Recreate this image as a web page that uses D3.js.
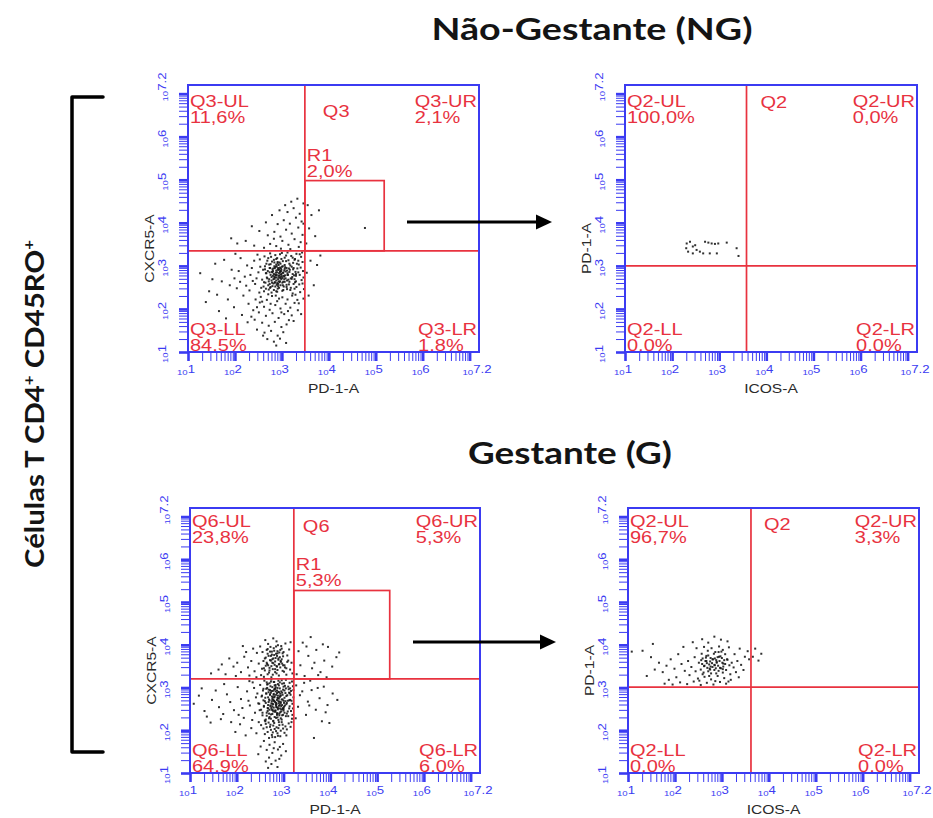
<!DOCTYPE html>
<html>
<head>
<meta charset="utf-8">
<script src="https://cdn.jsdelivr.net/npm/d3@7"></script>
<style>
  html, body { margin: 0; padding: 0; background: #fff; }
  svg { display: block; }
</style>
</head>
<body>
<svg id="fig" width="933" height="818"></svg>
<script>
// ---- Events, as [log10 x, log10 y] -------------------------------------
// Não-Gestante, CXCR5 vs PD-1 (Q3 gate)
const q3Events = [
  // lower-left core
  [2.62,2.41],[2.71,2.55],[2.78,2.38],[2.85,2.62],[2.91,2.47],[2.97,2.71],[3.04,2.52],[3.11,2.66],[3.18,2.44],[3.25,2.58],
  [2.66,2.83],[2.74,2.95],[2.81,2.77],[2.88,2.89],[2.93,3.02],[2.99,2.81],[3.06,2.93],[3.13,2.79],[3.21,2.98],[3.29,2.86],
  [2.69,3.12],[2.77,3.21],[2.84,3.08],[2.90,3.18],[2.96,3.27],[3.02,3.11],[3.09,3.24],[3.16,3.05],[3.23,3.19],[3.31,3.28],
  [2.58,2.68],[2.64,2.99],[2.72,2.64],[2.79,2.86],[2.86,2.73],[2.92,2.58],[2.98,2.94],[3.05,2.69],[3.12,2.83],[3.19,2.71],
  [2.61,2.52],[2.68,2.73],[2.75,2.49],[2.82,2.69],[2.89,2.56],[2.95,2.78],[3.01,2.61],[3.08,2.87],[3.15,2.57],[3.22,2.74],
  [2.87,2.84],[2.91,2.91],[2.94,2.83],[2.97,2.88],[3.00,2.76],[2.83,2.81],[2.89,2.79],[2.96,2.96],[3.03,2.84],[2.92,2.69],
  [2.85,2.95],[2.99,2.69],[3.07,2.78],[2.80,2.92],[2.93,2.77],[2.88,2.66],[3.02,2.99],[2.95,2.62],[2.86,2.52],[3.10,2.95],
  [2.79,2.61],[2.84,2.74],[2.90,2.85],[2.98,2.80],[3.05,2.89],[2.76,2.79],[2.94,2.92],[3.01,2.72],[2.87,2.98],[2.97,2.55],
  [2.70,2.88],[2.76,3.04],[2.83,3.14],[2.91,3.06],[2.99,3.16],[3.06,3.02],[3.14,3.13],[2.73,2.69],[3.17,2.91],[3.24,3.07],
  [2.65,2.61],[2.72,2.45],[2.80,2.53],[2.88,2.41],[2.94,2.49],[3.03,2.44],[3.10,2.51],[3.16,2.63],[3.27,2.69],[3.33,2.94],
  [2.60,2.91],[2.67,3.05],[2.63,3.22],[2.75,3.29],[2.86,3.25],[3.00,3.30],[3.12,3.31],[3.20,3.23],[3.35,3.12],[3.38,2.79],
  [2.92,2.95],[2.89,2.73],[2.96,2.86],[3.04,2.77],[2.81,2.88],[2.99,2.91],[2.86,2.79],[2.93,2.64],[3.08,2.71],[2.78,2.74],
  [2.95,3.08],[2.84,2.99],[3.02,2.55],[2.90,2.60],[2.74,2.85],[3.11,2.89],[2.97,2.74],[2.88,3.03],[3.06,2.63],[2.82,2.59],
  [2.66,2.47],[2.74,2.58],[2.83,2.44],[2.92,2.53],[3.01,2.42],[3.10,2.56],[3.19,2.49],[3.28,2.62],[2.69,2.71],[2.78,2.66],
  [2.87,2.78],[2.96,2.64],[3.05,2.75],[3.14,2.68],[3.23,2.81],[2.64,2.92],[2.73,3.03],[2.82,2.94],[2.91,3.09],[3.00,2.98],
  [3.09,3.11],[3.18,3.01],[3.27,3.14],[2.71,3.18],[2.80,2.85],[2.89,2.99],[2.98,2.87],[3.07,2.97],[3.16,2.86],[3.25,2.95],
  [2.76,2.51],[2.85,2.61],[2.94,2.73],[3.03,2.63],[3.12,2.79],[3.21,2.70],[2.67,2.83],[2.79,3.10],[2.88,3.16],[2.97,3.05],
  [3.06,3.19],[3.15,2.94],[2.62,2.62],[3.30,2.77],[2.84,2.70],[2.93,2.91],[3.02,2.84],[2.75,2.95],[3.11,2.46],[2.90,2.40],
  // lower tail
  [2.55,2.28],[2.68,2.21],[2.79,2.30],[2.90,2.18],[3.01,2.27],[3.12,2.22],[3.22,2.31],[2.62,2.05],[2.74,1.98],[2.86,2.09],
  [2.97,2.01],[3.08,2.12],[3.18,2.03],[2.51,1.92],[2.66,1.84],[2.80,1.90],[2.93,1.79],[3.05,1.88],[3.15,1.74],[2.58,1.68],
  [2.72,1.61],[2.85,1.70],[2.99,1.58],[3.10,1.64],[2.47,1.52],[2.63,1.45],[2.77,1.49],[2.91,1.38],[3.03,1.46],[2.69,1.30],
  [2.83,1.24],[2.96,1.31],[3.09,1.21],[2.88,1.15],[2.42,1.75],[2.53,2.15],[2.94,2.24],[3.27,2.14],[2.71,2.34],[3.13,1.95],
  [2.60,1.38],[2.87,2.31],[2.99,1.92],[2.76,2.12],[3.21,1.85],
  // left scatter
  [1.26,2.83],[1.45,2.41],[1.58,3.05],[1.72,2.64],[1.85,2.22],[1.93,2.91],[2.04,2.48],[2.12,3.18],[2.21,2.75],[2.29,2.12],
  [2.36,2.95],[2.43,2.58],[2.48,3.26],[2.52,2.38],[1.66,1.95],[1.81,1.78],[1.98,2.04],[2.15,1.86],[2.27,1.69],[2.39,1.97],
  [1.52,2.69],[1.77,3.14],[1.99,2.71],[2.08,2.88],[2.24,2.54],[2.33,2.79],[2.41,3.12],[2.46,2.71],[2.54,2.98],[2.50,2.85],
  [1.38,2.16],[2.18,2.31],[2.31,2.43],[2.44,2.22],[2.56,2.49],[2.01,3.28],[1.89,2.55],[2.26,3.01],[2.38,2.65],[2.53,3.15],
  [2.47,2.04],[2.35,1.82],[2.11,2.63],[1.62,2.33],[2.58,2.17],
  // along the PD-1 gate
  [3.26,2.78],[3.31,2.51],[3.36,3.03],[3.42,2.67],[3.45,2.88],[3.39,2.39],[3.33,2.21],[3.28,3.16],[3.41,3.21],[3.47,2.46],
  [3.24,2.92],[3.30,2.64],[3.35,2.85],[3.44,3.09],[3.37,2.57],[3.29,2.33],[3.46,2.73],[3.40,2.96],[3.34,1.97],[3.25,1.72],
  [3.43,3.31],[3.38,3.27],[3.32,3.05],[3.27,2.47],[3.46,2.24],[3.36,2.13],[3.41,1.88],[3.23,2.36],[3.30,2.81],[3.44,2.59],
  // upper-left
  [2.62,3.42],[2.75,3.51],[2.88,3.46],[3.01,3.58],[3.14,3.49],[3.27,3.62],[3.40,3.55],[2.70,3.71],[2.84,3.79],[2.97,3.68],
  [3.09,3.84],[3.21,3.75],[3.35,3.89],[3.44,3.72],[2.91,3.97],[3.04,4.06],[3.17,3.98],[3.30,4.12],[3.42,4.03],[3.12,4.25],
  [3.25,4.34],[3.38,4.21],[3.46,4.45],[3.33,4.56],[3.20,4.49],[2.41,3.47],[2.23,3.58],[2.05,3.52],[1.92,3.64],[2.52,3.81],
  [2.36,3.92],[2.66,4.01],[2.79,4.18],[2.95,4.29],[3.07,4.41],[2.98,3.40],[3.18,3.39],[2.83,3.63],[3.46,3.98],[3.36,3.44],
  // upper-right
  [3.52,3.52],[3.58,3.87],[3.63,4.18],[3.55,4.41],[3.71,3.69],[3.79,4.29],[4.77,3.88],
  // lower-right
  [3.53,2.84],[3.61,3.12],[3.68,2.55],[3.57,2.31],[3.75,3.02],[3.82,3.24]
];

// Não-Gestante, PD-1 vs ICOS inside R1
const q2NgEvents = [
  [2.31,3.52],[2.38,3.56],[2.30,3.41],[2.44,3.45],[2.49,3.48],[2.44,3.29],[2.59,3.33],[2.70,3.56],[2.77,3.54],[2.84,3.52],
  [2.91,3.51],[2.98,3.52],[3.16,3.54],[2.66,3.29],[2.80,3.29],[2.95,3.29],[3.37,3.41],[3.41,3.23],[2.34,3.33],[2.52,3.37]
];

// Gestante, CXCR5 vs PD-1 (Q6 gate)
const q6Events = [
  // lower-left core
  [2.62,2.25],[2.70,2.31],[2.78,2.22],[2.86,2.36],[2.94,2.28],[3.02,2.41],[3.10,2.33],[2.66,2.45],[2.74,2.52],[2.82,2.43],
  [2.90,2.57],[2.98,2.49],[3.06,2.61],[2.58,2.55],[2.68,2.66],[2.76,2.73],[2.84,2.64],[2.92,2.78],[3.00,2.69],[3.08,2.82],
  [2.63,2.86],[2.71,2.94],[2.79,2.85],[2.87,2.99],[2.95,2.91],[3.03,3.04],[3.11,2.96],[2.65,3.07],[2.73,3.14],[2.81,3.05],
  [2.89,3.16],[2.97,3.09],[3.05,3.18],[2.57,2.97],[2.69,2.39],[2.77,2.47],[2.85,2.54],[2.93,2.42],[3.01,2.55],[2.72,2.58],
  [2.80,2.69],[2.88,2.81],[2.96,2.72],[3.04,2.87],[2.75,2.79],[2.83,2.91],[2.91,2.67],[2.99,2.95],[2.67,2.77],[2.60,2.68],
  [2.64,2.34],[2.73,2.27],[2.81,2.31],[2.89,2.24],[2.97,2.35],[2.76,2.38],[2.84,2.29],[2.92,2.51],[3.00,2.46],[2.70,2.48],
  [2.78,2.61],[2.86,2.71],[2.94,2.63],[3.02,2.76],[2.68,2.89],[2.76,3.01],[2.84,2.83],[2.92,3.12],[3.00,3.02],[2.74,3.19],
  [2.82,2.97],[2.90,2.89],[2.98,2.83],[2.87,2.76],[2.79,2.53],[2.71,2.83],[2.95,2.56],[2.83,2.46],[2.91,2.35],[2.67,2.59],
  [2.75,2.68],[2.85,2.62],[2.93,2.86],[3.01,2.64],[2.77,2.92],[2.88,3.08],[2.96,3.17],[2.64,3.12],[2.72,3.03],[3.07,2.39],
  [3.12,2.51],[3.14,2.71],[3.16,2.92],[3.13,3.11],[3.18,2.27],[2.55,2.41],[2.53,2.79],[2.59,3.16],[2.61,2.21],[2.48,2.62],
  [2.80,2.77],[2.86,2.87],[2.78,2.71],[2.84,2.58],[2.90,2.74],[2.82,2.66],[2.88,2.49],[2.74,2.63],[2.94,2.81],[2.80,2.95],
  [2.69,2.72],[2.97,2.59],[2.86,2.93],[2.76,2.56],[2.89,2.68],[2.81,2.79],[2.73,2.88],[2.95,2.44],[2.83,3.01],[2.92,2.59],
  [2.66,2.52],[2.78,2.44],[2.87,2.39],[2.99,2.52],[2.70,3.10],[2.80,3.13],[2.90,3.05],[3.05,2.98],[2.63,2.97],[3.09,2.69],
  [2.55,2.35],[2.64,2.41],[2.73,2.37],[2.82,2.46],[2.91,2.39],[3.00,2.50],[3.09,2.44],[2.58,2.57],[2.67,2.51],[2.76,2.62],
  [2.85,2.54],[2.94,2.66],[3.03,2.58],[3.12,2.70],[2.61,2.76],[2.70,2.70],[2.79,2.83],[2.88,2.75],[2.97,2.88],[3.06,2.80],
  [2.56,2.93],[2.65,2.99],[2.74,2.92],[2.83,3.06],[2.92,2.98],[3.01,3.10],[3.10,3.02],[2.60,2.23],[2.69,2.28],[2.78,2.21],
  [2.87,2.30],[2.96,2.25],[3.05,2.33],[2.52,2.48],[2.62,2.64],[2.71,2.84],[2.80,2.68],[2.89,2.90],[2.98,2.72],[3.07,2.64],
  [2.66,3.08],[2.75,2.48],[2.84,2.60],[2.93,2.81],[3.02,2.93],[2.57,2.70],[2.68,2.95],[2.77,2.77],[2.86,2.40],[2.95,2.49],
  [3.04,2.68],[2.63,2.86],[2.72,2.56],[2.81,2.97],[2.90,2.63],[2.99,2.36],[3.13,2.87],[2.54,2.81],[2.79,3.13],[2.88,2.52],
  [2.62,2.15],[2.71,2.08],[2.80,2.17],[2.89,2.05],[2.98,2.13],[3.07,2.02],[2.66,1.96],[2.75,1.89],[2.84,1.98],[2.93,1.86],
  [3.02,1.94],[2.57,2.04],[2.69,1.82],[2.78,2.11],[2.87,1.93],[2.96,2.19],[3.04,2.09],[2.73,2.01],[2.82,1.84],[2.91,2.12],
  [2.60,1.91],[2.77,1.95],[2.85,2.07],[2.94,1.99],[2.68,2.18],[3.11,2.16],[2.52,2.12],[2.88,1.87],[2.99,2.04],[2.72,2.13],
  [2.81,2.03],[2.64,2.07],[3.06,1.88],[2.90,2.19],[2.76,1.84],
  // lower tail
  [2.58,1.75],[2.70,1.66],[2.81,1.72],[2.92,1.61],[2.64,1.54],[2.76,1.47],[2.88,1.55],[2.99,1.68],[2.69,1.36],[2.83,1.29],
  [2.95,1.41],[2.74,1.21],[2.87,1.14],[2.62,1.27],[2.51,1.62],[3.05,1.51],[2.79,1.58],[2.91,1.33],[2.46,1.44],[2.67,1.12],
  // left scatter
  [1.08,2.62],[1.19,2.81],[1.31,2.45],[1.36,2.32],[1.47,2.71],[1.55,2.93],[1.62,2.54],[1.71,2.38],[1.79,2.84],[1.86,2.66],
  [1.94,2.47],[2.02,3.01],[2.09,2.73],[2.15,2.29],[2.22,2.91],[2.28,2.58],[2.34,3.12],[2.39,2.41],[2.44,2.86],[2.47,2.19],
  [1.88,2.19],[1.97,1.96],[2.07,2.14],[2.19,1.88],[2.31,2.05],[2.42,1.93],[1.73,3.08],[2.12,2.52],[2.25,2.69],[2.37,2.99],
  [2.46,2.63],[2.50,3.06],[1.44,2.18],[1.66,2.26],[2.04,2.36],[2.33,2.24],[2.41,2.77],[2.49,2.47],[1.25,2.98],[2.27,3.15],
  // along the PD-1 gate
  [3.16,2.45],[3.19,2.62],[3.15,2.83],[3.20,3.03],[3.17,2.19],[3.14,2.98],[3.19,2.36],[3.21,2.77],[3.13,2.56],[3.18,3.14],
  [3.15,2.08],[3.20,2.51],[3.12,2.88],[3.17,2.69],[3.21,2.94],
  // upper-left
  [2.58,3.25],[2.66,3.31],[2.74,3.24],[2.82,3.36],[2.90,3.28],[2.98,3.39],[3.06,3.30],[3.14,3.42],[2.54,3.44],[2.62,3.51],
  [2.70,3.46],[2.78,3.57],[2.86,3.49],[2.94,3.60],[3.02,3.52],[3.10,3.63],[2.60,3.68],[2.68,3.74],[2.76,3.66],[2.84,3.79],
  [2.92,3.71],[3.00,3.83],[3.08,3.75],[2.64,3.88],[2.72,3.95],[2.80,3.86],[2.88,3.99],[2.96,3.91],[3.04,4.03],[2.57,3.62],
  [2.69,3.35],[2.77,3.43],[2.85,3.33],[2.93,3.47],[3.01,3.37],[2.65,3.55],[2.73,3.63],[2.81,3.53],[2.89,3.65],[2.97,3.56],
  [2.75,3.77],[2.83,3.69],[2.91,3.82],[2.99,3.73],[2.71,3.84],[2.79,3.92],[2.87,3.85],[2.95,3.97],[2.67,4.02],[2.85,4.08],
  [2.52,3.29],[2.47,3.56],[2.43,3.81],[2.50,3.96],[2.61,4.11],[2.78,4.15],[3.12,3.89],[3.17,3.58],[3.19,3.33],[3.15,4.06],
  [2.38,3.38],[2.31,3.62],[2.24,3.47],[2.16,3.72],[2.09,3.36],[2.01,3.58],[1.93,3.49],[1.84,3.68],[1.76,3.31],[1.68,3.54],
  [2.35,3.91],[2.27,3.28],[2.20,3.83],[1.98,3.27],[1.61,3.42],[2.13,3.97],[2.42,3.24],[1.45,3.33],[2.87,3.41],[2.74,3.50],
  [2.82,3.61],[2.90,3.54],[2.66,3.79],[2.96,3.66],[3.06,3.45],[2.60,3.40],[2.86,3.74],[2.77,3.30],
  [2.58,3.45],[2.67,3.52],[2.76,3.58],[2.85,3.50],[2.94,3.62],[3.03,3.47],[2.62,3.70],[2.71,3.64],[2.80,3.76],[2.89,3.68],
  [2.98,3.80],[2.55,3.83],[2.66,3.90],[2.75,3.84],[2.84,3.96],[2.93,3.88],[3.08,3.60],[2.70,3.40],[2.82,3.43],[2.91,3.55],
  [2.64,3.58],[2.78,3.68],[2.87,3.80],[2.99,3.52],[2.73,3.74],
  // upper-right
  [3.28,3.31],[3.36,3.52],[3.45,3.27],[3.53,3.74],[3.61,3.45],[3.70,3.88],[3.79,3.36],[3.87,3.63],[3.95,3.95],[4.04,3.49],
  [4.13,3.71],[3.32,3.85],[3.41,4.05],[3.58,4.18],[3.66,3.58],[3.92,3.24],[4.19,3.82],[3.74,3.29],[3.49,3.96],[3.84,4.01],
  // lower-right
  [3.27,3.05],[3.35,2.82],[3.44,3.11],[3.52,2.67],[3.60,2.94],[3.69,2.48],[3.77,2.75],[3.86,3.02],[3.94,2.59],[4.05,2.86],
  [4.15,2.71],[3.31,2.55],[3.48,2.36],[3.65,1.82],[3.82,2.21],[3.98,2.17],[3.40,2.91],[3.57,3.16],[3.73,2.99],[3.90,2.42],
  [3.26,2.28],[3.55,2.58]
];

// Gestante, PD-1 vs ICOS inside R1
const q2GEvents = [
  [2.55,3.42],[2.63,3.51],[2.71,3.38],[2.79,3.57],[2.87,3.45],[2.95,3.62],[3.03,3.49],[3.11,3.66],[2.59,3.68],[2.67,3.74],
  [2.75,3.61],[2.83,3.79],[2.91,3.71],[2.99,3.84],[3.07,3.55],[2.51,3.58],[2.61,3.35],[2.69,3.46],[2.77,3.33],[2.85,3.52],
  [2.93,3.39],[3.01,3.58],[3.09,3.41],[2.65,3.62],[2.73,3.54],[2.81,3.66],[2.89,3.58],[2.97,3.73],[3.05,3.64],[2.57,3.79],
  [2.70,3.86],[2.78,3.92],[2.86,3.83],[2.94,3.96],[3.02,3.88],[2.62,3.95],[2.80,3.48],[2.88,3.64],[2.76,3.69],[2.92,3.51],
  [2.68,3.57],[2.84,3.41],[3.00,3.69],[2.74,3.44],[2.96,3.46],
  [2.58,3.55],[2.67,3.62],[2.76,3.49],[2.85,3.68],[2.94,3.72],[3.03,3.56],[3.12,3.65],[2.62,3.50],[2.71,3.75],[2.80,3.66],
  [2.89,3.60],[2.98,3.45],[3.07,3.78],[2.66,3.70],[2.75,3.42],[2.84,3.53],[2.93,3.83],[3.02,3.43],[3.16,3.52],[2.56,3.64],
  [2.35,3.48],[2.42,3.71],[2.28,3.62],[2.21,3.39],[2.14,3.55],[2.07,3.78],[1.99,3.44],[1.91,3.66],[1.82,3.51],[1.74,3.36],
  [1.66,3.58],[1.57,3.42],[1.49,3.71],[1.40,3.27],[1.31,3.86],[1.53,4.02],[2.46,3.92],[2.38,4.06],[2.31,3.29],[2.18,3.95],
  [2.03,3.24],[1.87,3.18],[1.78,3.09],[1.95,3.07],[2.11,3.12],[2.26,3.08],[2.40,3.14],[2.55,3.06],[2.68,3.11],[2.82,3.07],
  [2.96,3.13],[3.09,3.09],[2.49,3.21],[2.63,3.25],[2.77,3.19],[2.91,3.27],[3.05,3.22],[3.18,3.31],[3.25,3.47],[3.33,3.62],
  [3.41,3.53],[3.49,3.72],[3.55,3.85],[3.38,3.91],[3.27,3.78],[3.21,3.58],[3.15,3.94],[3.30,3.36],[3.46,3.41],[3.58,3.66],
  [3.12,4.08],[2.98,4.12],[2.84,4.19],[2.71,4.05],[2.58,4.13],[3.19,3.18],[3.36,3.24],[2.44,3.38],[2.59,3.31],[2.73,3.27],
  [2.88,3.33],[3.02,3.35],[2.52,3.16],[2.86,3.15],[3.14,3.14],[1.08,3.84],
  [3.66,3.72],[3.71,3.91],[3.78,3.63],[3.84,3.79]
];

// ---- Gates and statistics ----------------------------------------------
const panelEvents = [q3Events, q2NgEvents, q6Events, q2GEvents];
const quadrantNames = ["Q3", "Q2", "Q6", "Q2"];
const xChannels = ["PD-1-A", "ICOS-A", "PD-1-A", "ICOS-A"];
const yChannels = ["CXCR5-A", "PD-1-A", "CXCR5-A", "PD-1-A"];
const gateX = [3.49, 3.58, 3.22, 3.62];   // log10 of the vertical quadrant marker
const gateY = [3.35, 3.00, 3.20, 3.01];   // log10 of the horizontal quadrant marker
const pctUL = ["11,6%", "100,0%", "23,8%", "96,7%"];
const pctUR = ["2,1%", "0,0%", "5,3%", "3,3%"];
const pctLL = ["84,5%", "0,0%", "64,9%", "0,0%"];
const pctLR = ["1,8%", "0,0%", "6,0%", "0,0%"];
// R1 rectangle gates: [x0, x1, y0, y1] in log10
const r1Gates = [[3.49, 5.18, 3.35, 4.98], null, [3.22, 5.27, 3.20, 5.27], null];
const r1Pct = ["2,0%", null, "5,3%", null];
const groupTitles = ["Não-Gestante (NG)", "Gestante (G)"];
const tickExponents = [1, 2, 3, 4, 5, 6, 7.2];   // labelled decades

// ---- Layout --------------------------------------------------------------
const frames = [
  { x: 188, y: 85,  w: 291, h: 267, ul: [22, 38], qn: [18, 32] },
  { x: 625, y: 85,  w: 292, h: 267, ul: [22, 38], qn: [14, 23] },
  { x: 190, y: 508, w: 290, h: 265, ul: [19, 35], qn: [9, 24] },
  { x: 628, y: 508, w: 291, h: 265, ul: [19, 35], qn: [13, 22] }
];

const RED = "#e8323f";
const BLUE = "#3b3bf2";
const SX = 1.25;               // horizontal stretch used by the instrument text
const FONT = "'Liberation Sans', Arial, sans-serif";

const svg = d3.select("#fig");

// Text helper: horizontally stretched label; returns rendered width.
function stretched(g, x, y, str, opt = {}) {
  const t = g.append("text")
    .attr("transform", `translate(${x},${y}) scale(${opt.sx || SX},1)`)
    .attr("font-family", FONT)
    .attr("font-size", opt.size || 16)
    .attr("fill", opt.fill || RED)
    .attr("text-anchor", opt.anchor || "start")
    .text(str);
  return t.node().getComputedTextLength() * (opt.sx || SX);
}

function drawPanel(i) {
  const f = frames[i];
  const lo = 10, hi = Math.pow(10, 7.2);
  const x = d3.scaleLog().domain([lo, hi]).range([f.x, f.x + f.w]);
  const y = d3.scaleLog().domain([lo, hi]).range([f.y + f.h, f.y]);
  const g = svg.append("g");

  // events
  g.append("g").selectAll("rect")
    .data(panelEvents[i])
    .join("rect")
    .attr("x", d => x(Math.pow(10, d[0])) - 1)
    .attr("y", d => y(Math.pow(10, d[1])) - 1)
    .attr("width", 2).attr("height", 2)
    .attr("fill", "#151515").attr("opacity", 0.88);

  // quadrant markers
  const gx = x(Math.pow(10, gateX[i])), gy = y(Math.pow(10, gateY[i]));
  g.append("line").attr("x1", gx).attr("x2", gx).attr("y1", f.y).attr("y2", f.y + f.h)
    .attr("stroke", RED).attr("stroke-width", 1.7);
  g.append("line").attr("x1", f.x).attr("x2", f.x + f.w).attr("y1", gy).attr("y2", gy)
    .attr("stroke", RED).attr("stroke-width", 1.7);

  // R1 gate
  const r = r1Gates[i];
  if (r) {
    const rx0 = x(Math.pow(10, r[0])), rx1 = x(Math.pow(10, r[1]));
    const ry0 = y(Math.pow(10, r[2])), ry1 = y(Math.pow(10, r[3]));
    g.append("rect").attr("x", rx0).attr("y", ry1)
      .attr("width", rx1 - rx0).attr("height", ry0 - ry1)
      .attr("fill", "none").attr("stroke", RED).attr("stroke-width", 1.7);
    stretched(g, rx0 + 2, ry1 - 20, "R1");
    stretched(g, rx0 + 2, ry1 - 4, r1Pct[i]);
  }

  // quadrant statistics
  const q = quadrantNames[i];
  stretched(g, f.x + 2, f.y + f.ul[0], q + "-UL");
  stretched(g, f.x + 2, f.y + f.ul[1], pctUL[i]);
  stretched(g, gx + f.qn[0], f.y + f.qn[1], q);
  // right-hand blocks are left-aligned on the width of their first line
  const tmp = g.append("g").attr("opacity", 0);
  const wUR = stretched(tmp, 0, 0, q + "-UR");
  const wLR = stretched(tmp, 0, 0, q + "-LR");
  tmp.remove();
  const urx = f.x + f.w - 2 - wUR, lrx = f.x + f.w - 2 - wLR;
  stretched(g, urx, f.y + f.ul[0], q + "-UR");
  stretched(g, urx, f.y + f.ul[1], pctUR[i]);
  stretched(g, f.x + 2, f.y + f.h - 17, q + "-LL");
  stretched(g, f.x + 2, f.y + f.h - 1, pctLL[i]);
  stretched(g, lrx, f.y + f.h - 17, q + "-LR");
  stretched(g, lrx, f.y + f.h - 1, pctLR[i]);

  // axes: decade ticks and log minor ticks
  const majors = [1, 2, 3, 4, 5, 6, 7].map(e => Math.pow(10, e));
  const minors = [];
  for (let e = 1; e <= 7; e++) for (let k = 2; k <= 9; k++) {
    const v = k * Math.pow(10, e);
    if (v < hi) minors.push(v);
  }
  const styleAxis = (sel, w) => {
    sel.select(".domain").remove();
    sel.selectAll(".tick line").attr("stroke", BLUE).attr("stroke-width", w);
  };
  const ax = g.append("g").attr("transform", `translate(0,${f.y + f.h})`);
  ax.append("g").call(d3.axisBottom(x).tickValues(minors).tickSize(9).tickFormat(""))
    .call(s => styleAxis(s, 1));
  ax.append("g").call(d3.axisBottom(x).tickValues(majors).tickSize(9).tickFormat(""))
    .call(s => styleAxis(s, 2.6));
  const ay = g.append("g").attr("transform", `translate(${f.x},0)`);
  ay.append("g").call(d3.axisLeft(y).tickValues(minors).tickSize(9).tickFormat(""))
    .call(s => styleAxis(s, 1));
  ay.append("g").call(d3.axisLeft(y).tickValues(majors).tickSize(9).tickFormat(""))
    .call(s => styleAxis(s, 2.6));

  // frame
  g.append("rect").attr("x", f.x).attr("y", f.y).attr("width", f.w).attr("height", f.h)
    .attr("fill", "none").attr("stroke", BLUE).attr("stroke-width", 2);

  // tick labels: 10 with superscript exponent
  const tickLabel = (parent, str) => {
    const t = parent.append("text").attr("font-family", FONT).attr("fill", BLUE)
      .attr("text-anchor", "middle");
    t.append("tspan").attr("font-size", 8).text("10");
    t.append("tspan").attr("font-size", 11).attr("dy", -2).text(str);
  };
  tickExponents.forEach(e => {
    const tx = x(Math.pow(10, e));
    tickLabel(g.append("g").attr("transform", `translate(${tx - 2},${f.y + f.h + 23}) scale(1.2,1)`), e);
    const ty = y(Math.pow(10, e));
    tickLabel(g.append("g").attr("transform", `translate(${f.x - 20},${ty + 2}) rotate(-90) scale(1.2,1)`), e);
  });

  // channel names
  stretched(g, f.x + f.w / 2, f.y + f.h + 41, xChannels[i],
    { size: 13, fill: "#2a2a2a", anchor: "middle", sx: 1.2 });
  const yl = g.append("g").attr("transform", `translate(${f.x - 34},${f.y + f.h / 2 + 30}) rotate(-90)`);
  stretched(yl, 0, 0, yChannels[i], { size: 13, fill: "#2a2a2a", anchor: "middle", sx: 1.2 });
}

[0, 1, 2, 3].forEach(drawPanel);

// arrows from the R1 gate to the gated plot
const arrowSpecs = [{ x1: 407, x2: 552, y: 222 }, { x1: 413, x2: 556, y: 642 }];
arrowSpecs.forEach(a => {
  svg.append("line").attr("x1", a.x1).attr("x2", a.x2 - 12).attr("y1", a.y).attr("y2", a.y)
    .attr("stroke", "#000").attr("stroke-width", 3.2);
  svg.append("path")
    .attr("d", `M${a.x2},${a.y} L${a.x2 - 16},${a.y - 7.5} L${a.x2 - 16},${a.y + 7.5} Z`)
    .attr("fill", "#000");
});

// group titles
const TITLE_FONT = "Lato, 'Open Sans', sans-serif";
svg.append("text").attr("x", 592).attr("y", 40).attr("text-anchor", "middle")
  .attr("font-family", TITLE_FONT).attr("font-weight", 700).attr("font-size", 30)
  .attr("fill", "#141414").attr("textLength", 321).attr("lengthAdjust", "spacingAndGlyphs")
  .text(groupTitles[0]);
svg.append("text").attr("x", 570).attr("y", 464).attr("text-anchor", "middle")
  .attr("font-family", TITLE_FONT).attr("font-weight", 700).attr("font-size", 30)
  .attr("fill", "#141414").attr("textLength", 204).attr("lengthAdjust", "spacingAndGlyphs")
  .text(groupTitles[1]);

// population bracket and its label
svg.append("path").attr("d", "M103,97 H72 V752 H103")
  .attr("fill", "none").attr("stroke", "#000").attr("stroke-width", 3.5)
  .attr("stroke-linejoin", "round").attr("stroke-linecap", "round");
const side = svg.append("text")
  .attr("transform", "translate(44,404) rotate(-90)")
  .attr("text-anchor", "middle")
  .attr("font-family", TITLE_FONT).attr("font-weight", 700).attr("font-size", 26)
  .attr("fill", "#141414").attr("textLength", 328).attr("lengthAdjust", "spacingAndGlyphs");
side.append("tspan").text("Células T CD4");
side.append("tspan").attr("font-size", 15).attr("dy", -10).text("+");
side.append("tspan").attr("dy", 10).text(" CD45RO");
side.append("tspan").attr("font-size", 15).attr("dy", -10).text("+");
</script>
</body>
</html>
